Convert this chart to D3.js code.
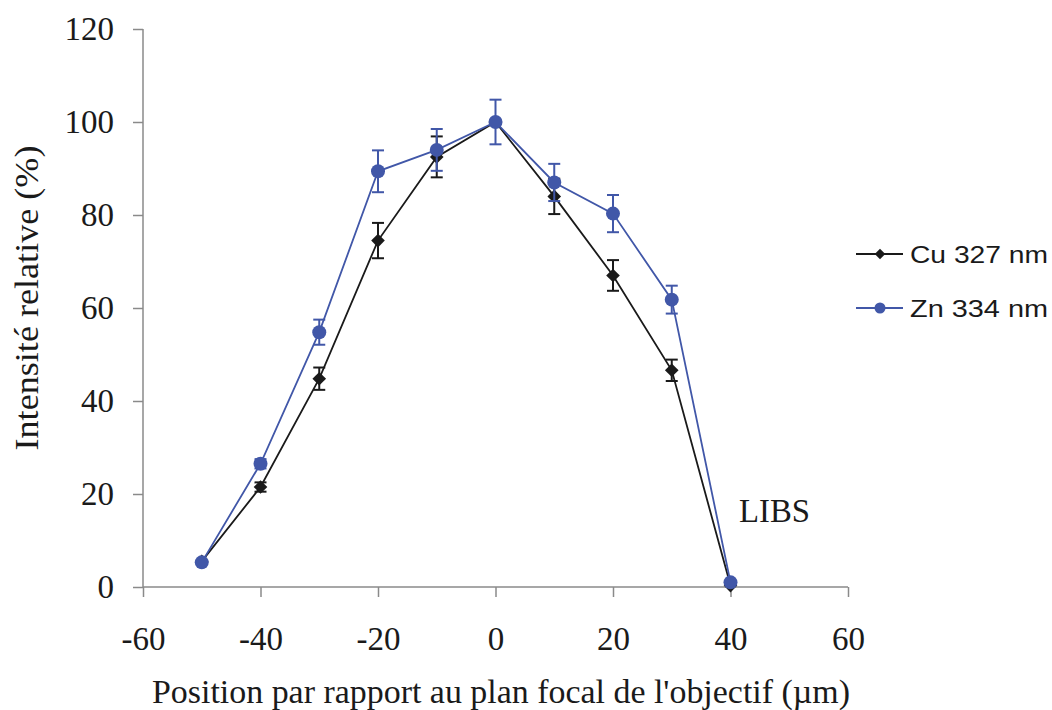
<!DOCTYPE html>
<html><head><meta charset="utf-8">
<script src="https://cdn.jsdelivr.net/npm/d3@7"></script>
<style>body{margin:0;background:#fff}</style>
</head><body>
<svg id="c" width="1052" height="710"></svg>
<script>
const positions = [-50, -40, -30, -20, -10, 0, 10, 20, 30, 40];
const cuValues = [5.5, 21.5, 44.8, 74.5, 92.5, 100, 84, 67, 46.6, 0.3];
const cuErrors = [0.5, 1.0, 2.4, 3.8, 4.4, 0, 3.8, 3.3, 2.3, 0];
const znValues = [5.3, 26.5, 54.8, 89.4, 94, 100, 87, 80.3, 61.8, 1];
const znErrors = [0.5, 1.0, 2.7, 4.5, 4.5, 4.8, 4, 4, 3, 0];
const xTicks = [-60, -40, -20, 0, 20, 40, 60];
const yTicks = [0, 20, 40, 60, 80, 100, 120];
const seriesNames = ["Cu 327 nm", "Zn 334 nm"];
const colors = ["#1a1a1a", "#4157a8"];

const svg = d3.select("#c");
const x = d3.scaleLinear().domain([-60, 60]).range([143, 848]);
const y = d3.scaleLinear().domain([0, 120]).range([587, 29]);
const axisColor = "#8a8a8a";
const serif = "'Liberation Serif','Times New Roman',serif";
const fmt = d => String(d);

// axes
const gy = svg.append("g").attr("transform", `translate(${x(-60)},0)`)
  .call(d3.axisLeft(y).tickValues(yTicks).tickFormat(fmt).tickSize(10).tickPadding(19));
const gx = svg.append("g").attr("transform", `translate(0,${y(0)})`)
  .call(d3.axisBottom(x).tickValues(xTicks).tickFormat(fmt).tickSize(10).tickPadding(30));
[gx, gy].forEach(g => {
  g.selectAll("path,line").attr("stroke", axisColor).attr("stroke-width", 1.5);
  g.select(".domain").attr("d", g === gx ? `M${x(-60)},0H${x(60)}` : `M0,${y(0)}V${y(120)}`);
  g.selectAll("text").attr("font-family", serif).attr("font-size", 33).attr("fill", "#1a1a1a");
});

svg.append("text").attr("transform", `translate(38,${y(60) - 10}) rotate(-90)`)
  .attr("text-anchor", "middle").attr("font-family", serif).attr("font-size", 33)
  .attr("textLength", 305).attr("lengthAdjust", "spacingAndGlyphs")
  .attr("fill", "#1a1a1a").text("Intensité relative (%)");
svg.append("text").attr("x", 501).attr("y", 703).attr("text-anchor", "middle")
  .attr("font-family", serif).attr("font-size", 33).attr("fill", "#1a1a1a")
  .attr("textLength", 698).attr("lengthAdjust", "spacingAndGlyphs")
  .text("Position par rapport au plan focal de l'objectif (µm)");
svg.append("text").attr("x", 739).attr("y", 522).attr("font-family", serif)
  .attr("font-size", 34).attr("textLength", 71).attr("lengthAdjust", "spacingAndGlyphs")
  .attr("fill", "#1a1a1a").text("LIBS");

const line = d3.line().x(d => x(d.p)).y(d => y(d.v));
const series = [
  {vals: cuValues, errs: cuErrors, color: colors[0], shape: "diamond"},
  {vals: znValues, errs: znErrors, color: colors[1], shape: "circle"}
];
series.forEach(s => {
  const data = positions.map((p, i) => ({p, v: s.vals[i], e: s.errs[i]}));
  const g = svg.append("g");
  data.filter(d => d.e > 0.6).forEach(d => {
    const eb = g.append("g").attr("stroke", s.color).attr("stroke-width", 2);
    eb.append("line").attr("x1", x(d.p)).attr("x2", x(d.p)).attr("y1", y(d.v - d.e)).attr("y2", y(d.v + d.e));
    [d.v - d.e, d.v + d.e].forEach(v => eb.append("line").attr("x1", x(d.p) - 6).attr("x2", x(d.p) + 6).attr("y1", y(v)).attr("y2", y(v)));
  });
  g.append("path").datum(data).attr("d", line).attr("fill", "none").attr("stroke", s.color).attr("stroke-width", 1.8);
  data.forEach(d => {
    if (s.shape === "circle") g.append("circle").attr("cx", x(d.p)).attr("cy", y(d.v)).attr("r", 7).attr("fill", s.color);
    else g.append("path").attr("d", d3.symbol().type(d3.symbolDiamond2).size(118)()).attr("transform", `translate(${x(d.p)},${y(d.v)})`).attr("fill", s.color);
  });
});

// legend
const leg = svg.append("g");
seriesNames.forEach((n, i) => {
  const ly = 254 + i * 54;
  leg.append("line").attr("x1", 856).attr("x2", 903).attr("y1", ly).attr("y2", ly).attr("stroke", colors[i]).attr("stroke-width", 2);
  if (i === 0) leg.append("path").attr("d", d3.symbol().type(d3.symbolDiamond2).size(70)()).attr("transform", `translate(880,${ly})`).attr("fill", colors[i]);
  else leg.append("circle").attr("cx", 880).attr("cy", ly).attr("r", 5.5).attr("fill", colors[i]);
  leg.append("text").attr("x", 910).attr("y", ly + 9).attr("font-family", "'Liberation Sans',Arial,sans-serif")
    .attr("font-size", 24).attr("textLength", 138).attr("lengthAdjust", "spacingAndGlyphs")
    .attr("fill", "#1a1a1a").text(n);
});
</script>
</body></html>
